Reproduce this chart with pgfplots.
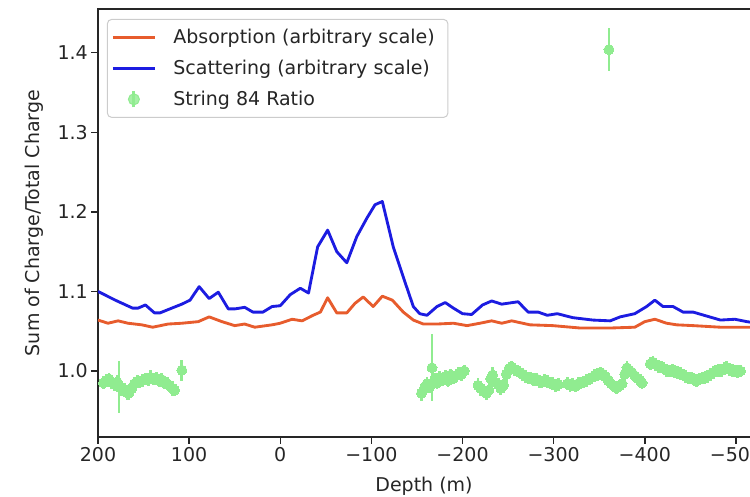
\documentclass[border=0pt]{standalone}
\usepackage{fontspec}
\setmainfont{DejaVu Sans}
\usepackage{pgfplots}
\pgfplotsset{compat=1.18}
\usepackage{pgfplotstable}
\definecolor{absc}{RGB}{231,92,45}
\definecolor{scac}{RGB}{28,28,225}
\definecolor{strc}{RGB}{144,236,144}
\newcommand\f{\fontsize{19}{23}\selectfont}

\pgfplotstableread{
x y
200 1.100
181 1.089
162 1.079
156 1.079
148 1.083
138 1.073
132 1.073
119 1.079
108 1.084
99 1.089
89 1.106
78 1.091
68 1.099
57 1.078
50 1.078
39 1.080
30 1.074
19 1.074
9 1.081
0 1.082
-11 1.096
-22 1.104
-31 1.098
-41 1.156
-52 1.177
-62 1.150
-73 1.136
-84 1.169
-95 1.192
-104 1.209
-112 1.213
-124 1.156
-135 1.118
-146 1.081
-153 1.072
-161 1.070
-172 1.081
-181 1.086
-190 1.079
-200 1.072
-210 1.071
-222 1.083
-232 1.088
-243 1.084
-261 1.087
-272 1.074
-283 1.074
-293 1.070
-304 1.072
-321 1.067
-343 1.064
-362 1.063
-373 1.068
-389 1.072
-402 1.081
-411 1.089
-420 1.081
-431 1.081
-442 1.074
-453 1.074
-468 1.069
-483 1.064
-499 1.065
-512 1.062
-524 1.060
}\scat

\pgfplotstableread{
x y
200 1.064
189 1.060
178 1.063
167 1.060
152 1.058
140 1.055
123 1.059
108 1.060
90 1.062
78 1.068
64 1.062
50 1.057
39 1.059
28 1.055
9 1.058
0 1.060
-13 1.065
-24 1.063
-36 1.070
-44 1.074
-52 1.092
-62 1.073
-73 1.073
-82 1.085
-91 1.093
-102 1.081
-112 1.094
-123 1.089
-135 1.074
-146 1.064
-157 1.059
-172 1.059
-190 1.060
-205 1.057
-219 1.060
-232 1.063
-243 1.060
-254 1.063
-274 1.058
-299 1.057
-329 1.054
-362 1.054
-389 1.055
-400 1.062
-411 1.065
-424 1.060
-435 1.058
-453 1.057
-483 1.055
-512 1.055
-524 1.055
}\absorb

\pgfplotstableread{
x y e
194 0.985 0.008
191 0.988 0.008
188 0.990 0.008
185 0.986 0.009
182 0.983 0.008
179 0.986 0.009
177 0.980 0.033
174 0.978 0.010
171 0.976 0.009
168 0.973 0.009
166 0.972 0.008
163 0.978 0.008
160 0.984 0.008
157 0.987 0.008
154 0.986 0.008
151 0.988 0.008
148 0.990 0.008
145 0.989 0.008
142 0.992 0.009
139 0.990 0.008
136 0.991 0.008
133 0.988 0.008
130 0.989 0.008
127 0.985 0.008
124 0.984 0.008
121 0.981 0.008
118 0.978 0.009
116 0.976 0.008
108 1.001 0.013
-155 0.972 0.010
-158 0.978 0.009
-161 0.984 0.008
-164 0.980 0.008
-166.5 1.004 0.042
-169 0.988 0.009
-172 0.985 0.008
-175 0.992 0.008
-178 0.989 0.008
-181 0.993 0.008
-184 0.988 0.008
-187 0.995 0.008
-190 0.991 0.008
-193 0.994 0.008
-196 0.997 0.008
-199 0.996 0.008
-202 1.000 0.008
-217 0.982 0.009
-220 0.978 0.009
-223 0.975 0.008
-226 0.972 0.009
-229 0.976 0.008
-231 0.990 0.009
-233 0.995 0.010
-236 0.986 0.008
-239 0.983 0.008
-242 0.978 0.008
-245 0.982 0.008
-248 0.996 0.008
-251 1.003 0.008
-254 1.005 0.008
-257 1.002 0.008
-260 1.000 0.008
-263 0.998 0.008
-266 0.996 0.008
-269 0.993 0.008
-272 0.991 0.008
-275 0.991 0.008
-278 0.989 0.008
-281 0.990 0.008
-284 0.987 0.008
-287 0.986 0.008
-290 0.988 0.008
-293 0.987 0.008
-296 0.985 0.008
-299 0.984 0.008
-302 0.982 0.008
-305 0.983 0.008
-315 0.984 0.008
-318 0.982 0.008
-321 0.983 0.008
-324 0.981 0.008
-327 0.984 0.008
-330 0.985 0.008
-333 0.986 0.008
-336 0.988 0.008
-339 0.990 0.008
-342 0.992 0.008
-345 0.994 0.008
-348 0.996 0.008
-351 0.997 0.008
-354 0.996 0.008
-357 0.993 0.008
-360 0.988 0.008
-363 0.984 0.008
-366 0.981 0.008
-369 0.979 0.008
-372 0.981 0.008
-375 0.984 0.008
-378 0.996 0.008
-380.4 1.004 0.008
-383 1.001 0.008
-386 0.998 0.008
-389 0.994 0.008
-392 0.991 0.008
-395 0.988 0.008
-397 0.985 0.008
-406 1.009 0.008
-409 1.011 0.008
-412 1.008 0.008
-415 1.006 0.008
-418 1.005 0.008
-421 1.003 0.008
-424 1.001 0.008
-427 1.000 0.008
-430 1.001 0.008
-433 0.999 0.008
-436 0.998 0.008
-439 0.997 0.008
-442 0.995 0.008
-445 0.993 0.008
-448 0.991 0.008
-451 0.991 0.008
-454 0.989 0.008
-457 0.988 0.008
-460 0.990 0.008
-463 0.991 0.008
-466 0.992 0.008
-469 0.993 0.008
-472 0.996 0.008
-475 0.998 0.008
-478 1.000 0.008
-481 1.001 0.008
-484 1.001 0.008
-487 1.003 0.008
-490 1.004 0.008
-493 1.002 0.008
-496 1.001 0.008
-499 1.000 0.008
-502 0.999 0.008
-505 1.000 0.008
-360.7 1.404 0.027
}\ratio

\begin{document}
\begin{tikzpicture}[x=1pt,y=1pt]
\useasboundingbox (-98,-59) rectangle (652,437);
\begin{axis}[
  at={(0,0)}, anchor=south west,
  scale only axis, width=660pt, height=428pt,
  x dir=reverse, xmin=-524.2, xmax=200,
  ymin=0.917, ymax=1.455,
  xtick={200,100,0,-100,-200,-300,-400,-500},
  xticklabels={200,100,0,−100,−200,−300,−400,−500},
  ytick={1.0,1.1,1.2,1.3,1.4},
  yticklabels={1.0,1.1,1.2,1.3,1.4},
  xtick pos=left, ytick pos=left,
  tick align=outside, major tick length=6.65pt,
  every tick/.style={black!85, line width=1.5pt},
  axis line style={black!85, line width=1.5pt},
  tick label style={font=\f, text=black!85},
  label style={font=\f, text=black!85},
  xlabel={Depth (m)}, ylabel={Sum of Charge/Total Charge},
  xlabel style={at={(axis description cs:0.494,-0.128)}, anchor=base},
  ylabel style={at={(axis description cs:-0.097,0.5)}, anchor=center, rotate=0},
  legend cell align=left,
  legend image code/.code={\draw[#1] (0pt,0pt) -- (42pt,0pt); \path (57pt,0pt);},
  legend style={at={(0,1)}, anchor=north west, xshift=9pt, yshift=-10pt,
    draw=black!20, line width=1pt, rounded corners=4pt, fill=white,
    fill opacity=0.8, text opacity=1, font=\f, text=black!85,
    inner xsep=4pt, inner ysep=8pt, row sep=11pt},
]
\addplot[absc, line width=2.85pt, line join=round] table[x=x,y=y] {\absorb};
\addlegendentry{Absorption (arbitrary scale)\hspace*{7pt}}
\addplot[scac, line width=2.85pt, line join=round] table[x=x,y=y] {\scat};
\addlegendentry{Scattering (arbitrary scale)}
\addplot[color=strc, only marks, mark=*, mark size=5pt, mark options={draw=strc, fill=strc, line width=0pt},
  legend image code/.code={\draw[strc, line width=2.85pt] (21pt,-8pt) -- (21pt,8pt); \fill[strc] (21pt,0pt) circle (5.5pt); \path (0pt,0pt) (57pt,0pt);},
  error bars/.cd, y dir=both, y explicit, error mark=none,
  error bar style={draw=strc, line width=2.85pt}]
  table[x=x,y=y,y error=e] {\ratio};
\addlegendentry{String 84 Ratio}
\end{axis}
\end{tikzpicture}
\end{document}
